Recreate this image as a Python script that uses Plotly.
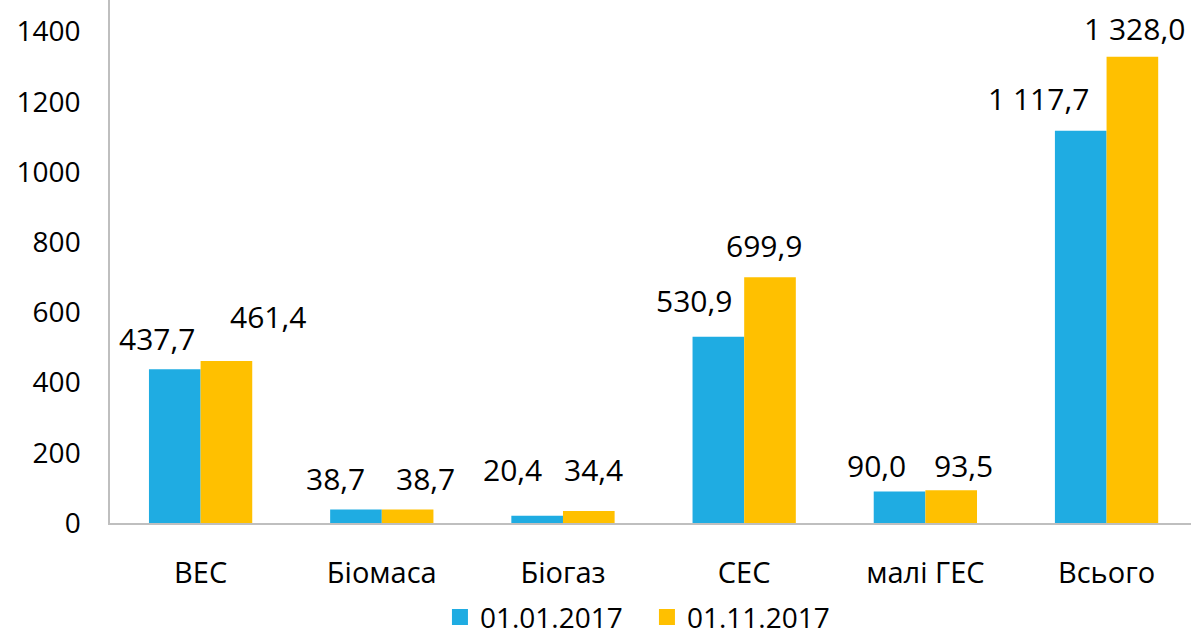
import plotly.graph_objects as go

categories = ["ВЕС", "Біомаса", "Біогаз", "СЕС", "малі ГЕС", "Всього"]
series_names = ["01.01.2017", "01.11.2017"]
values_jan = [437.7, 38.7, 20.4, 530.9, 90.0, 1117.7]
values_nov = [461.4, 38.7, 34.4, 699.9, 93.5, 1328.0]
labels_jan = ["437,7", "38,7", "20,4", "530,9", "90,0", "1 117,7"]
labels_nov = ["461,4", "38,7", "34,4", "699,9", "93,5", "1 328,0"]
y_ticks = [0, 200, 400, 600, 800, 1000, 1200, 1400]

colors = ["#1FACE2", "#FFC000"]
FONT = "Open Sans, Liberation Sans, sans-serif"

# label nudges (pixels) relative to bar centre/top, as placed in original
nudge_x = [[-18, -20, -24, -24, -23, -42], [41, 18, 5, -6, 12, 2]]
nudge_y = [[31, 31, 46, 36, 26, 32], [45, 31, 41, 32, 25, 28]]
bar_offset = [-26, 26]

fig = go.Figure()
for i, (name, vals) in enumerate(zip(series_names, [values_jan, values_nov])):
    fig.add_trace(go.Bar(x=categories, y=vals, name=name, showlegend=False,
                         marker=dict(color=colors[i], line=dict(width=0))))
# legend entries with square swatches
for i, name in enumerate(series_names):
    fig.add_trace(go.Scatter(x=[None], y=[None], mode="markers", name=name,
                             marker=dict(symbol="square", size=16, color=colors[i]),
                             showlegend=True))

annotations = []
for i, (vals, labs) in enumerate(zip([values_jan, values_nov], [labels_jan, labels_nov])):
    for j, (c, v, t) in enumerate(zip(categories, vals, labs)):
        annotations.append(dict(x=c, y=v, xref="x", yref="y", text=t, showarrow=False,
                                xshift=bar_offset[i] + nudge_x[i][j], yshift=nudge_y[i][j],
                                yanchor="middle", xanchor="center",
                                font=dict(size=30, color="#000000", family=FONT)))

fig.update_layout(
    width=1191, height=637,
    margin=dict(l=110, r=0, t=0, b=114, pad=0),
    paper_bgcolor="white", plot_bgcolor="white",
    barmode="group", bargap=0.43, bargroupgap=0,
    font=dict(family=FONT, size=28, color="#000000"),
    annotations=annotations,
    showlegend=True,
    legend=dict(orientation="h", xref="container", yref="container",
                x=0.3694, xanchor="left", y=0.031, yanchor="middle",
                font=dict(size=28, family=FONT, color="#000000"),
                itemwidth=30, entrywidth=162, tracegroupgap=0, bgcolor="rgba(0,0,0,0)"),
    xaxis=dict(range=[-0.5, 5.466], showgrid=False, showline=True, linecolor="#BFBFBF",
               linewidth=1.5, ticks="", ticklabelstandoff=23, automargin=False,
               tickfont=dict(size=29, family=FONT, color="#000000")),
    yaxis=dict(range=[0, 1490], tickvals=y_ticks, showgrid=False, showline=True,
               linecolor="#BFBFBF", linewidth=1.5, ticks="", zeroline=False,
               ticklabelstandoff=22, automargin=False,
               tickfont=dict(size=28, family=FONT, color="#000000")),
)

fig.write_html("out.html", config={"displayModeBar": False},
               post_script="document.body.style.margin='0';")
